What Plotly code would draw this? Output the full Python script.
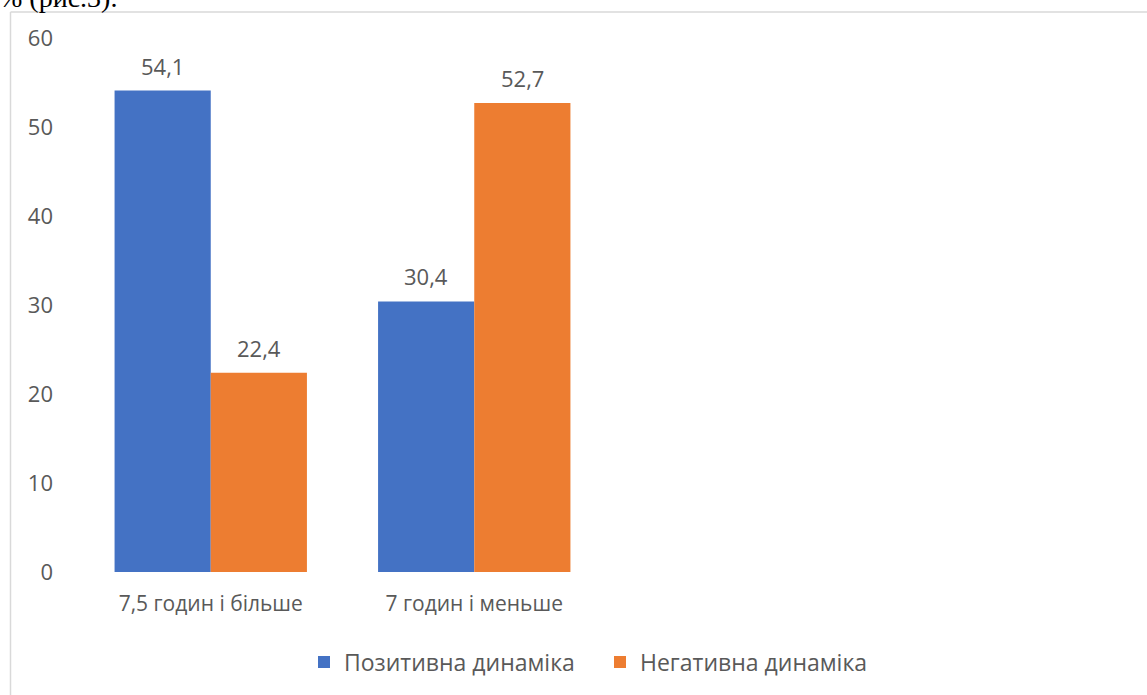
import plotly.graph_objects as go

categories = ["7,5 годин і більше", "7 годин і меньше"]
positive = [54.1, 30.4]
negative = [22.4, 52.7]
series_names = ["Позитивна динаміка", "Негативна динаміка"]
y_ticks = [0, 10, 20, 30, 40, 50, 60]

W, H = 1147, 695
L, R, T, B = 79, 14, 38, 123
pw, ph = W - L - R, H - T - B

def px_x(x):
    return (x - L) / pw

def px_y(y):
    return (H - B - y) / ph

gray = "#595959"
font_family = "Open Sans, Noto Sans, sans-serif"
colors = ["#4472C4", "#ED7D31"]

fig = go.Figure()
for name, vals, col in zip(series_names, [positive, negative], colors):
    fig.add_trace(go.Bar(x=categories, y=vals, name=name,
                         marker=dict(color=col, line=dict(width=0)),
                         cliponaxis=False))

annotations = []
bar_half = 48
for si, vals in enumerate([positive, negative]):
    shift = -bar_half if si == 0 else bar_half
    for cat, v in zip(categories, vals):
        annotations.append(dict(x=cat, y=v, xref="x", yref="y", text=f"{v:.1f}".replace(".", ","),
                                showarrow=False, xshift=shift, yshift=8, yanchor="bottom",
                                font=dict(size=22, color=gray, family=font_family)))

annotations.append(dict(text="% (рис.3).", xref="paper", yref="paper", x=px_x(119), y=px_y(15),
                        xanchor="right", yanchor="bottom", showarrow=False,
                        font=dict(family="Liberation Serif, Times New Roman, serif", size=28, color="black")))

fig.update_layout(
    width=W, height=H,
    margin=dict(l=L, r=R, t=T, b=B, autoexpand=False),
    paper_bgcolor="white", plot_bgcolor="white",
    barmode="group", bargap=0.27, bargroupgap=0,
    font=dict(family=font_family, color=gray),
    showlegend=True,
    legend=dict(orientation="h", x=px_x(304), xanchor="left", y=px_y(662), yanchor="middle",
                font=dict(size=23, color=gray, family=font_family),
                itemwidth=30, traceorder="normal", entrywidth=251),
    xaxis=dict(type="category", range=[-0.5, 3.5], showgrid=False, showline=False,
               zeroline=False, ticks="", tickfont=dict(size=21, color=gray),
               ticklabelstandoff=17),
    yaxis=dict(range=[0, 60], tickvals=y_ticks, showgrid=False, showline=False,
               zeroline=False, ticks="", tickfont=dict(size=22, color=gray),
               ticklabelstandoff=25),
    shapes=[
        dict(type="line", xref="paper", yref="paper", x0=px_x(10.5), x1=px_x(10.5),
             y0=px_y(12), y1=px_y(700), line=dict(color="#D9D9D9", width=1.5)),
        dict(type="line", xref="paper", yref="paper", x0=px_x(10.5), x1=px_x(1150),
             y0=px_y(12), y1=px_y(12), line=dict(color="#D9D9D9", width=1.5)),
    ],
    annotations=annotations,
)

fig.write_html("out.html")
